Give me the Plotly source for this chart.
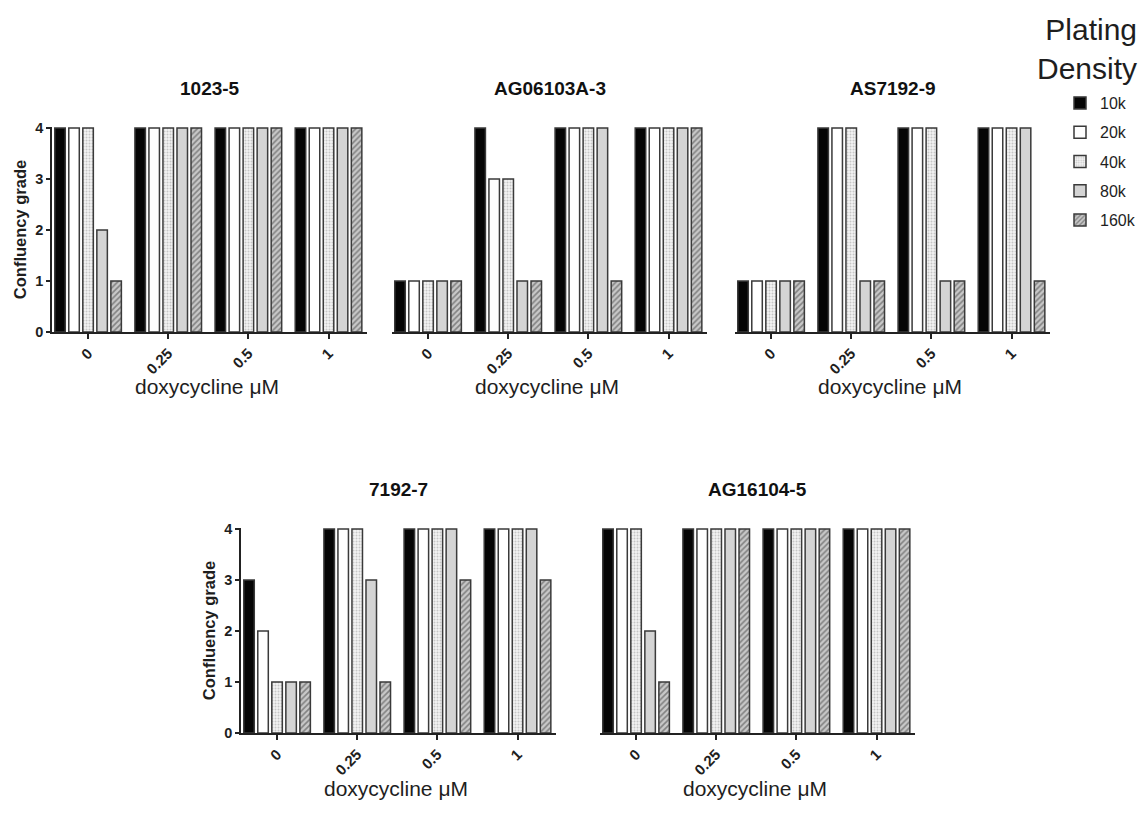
import plotly.graph_objects as go

doses = ["0", "0.25", "0.5", "1"]
densities = ["10k", "20k", "40k", "80k", "160k"]
panels = ["1023-5", "AG06103A-3", "AS7192-9", "7192-7", "AG16104-5"]

# confluency grade per density, one value per doxycycline dose
v_1023_5 = {"10k": [4, 4, 4, 4], "20k": [4, 4, 4, 4], "40k": [4, 4, 4, 4], "80k": [2, 4, 4, 4], "160k": [1, 4, 4, 4]}
v_AG06103A_3 = {"10k": [1, 4, 4, 4], "20k": [1, 3, 4, 4], "40k": [1, 3, 4, 4], "80k": [1, 1, 4, 4], "160k": [1, 1, 1, 4]}
v_AS7192_9 = {"10k": [1, 4, 4, 4], "20k": [1, 4, 4, 4], "40k": [1, 4, 4, 4], "80k": [1, 1, 1, 4], "160k": [1, 1, 1, 1]}
v_7192_7 = {"10k": [3, 4, 4, 4], "20k": [2, 4, 4, 4], "40k": [1, 4, 4, 4], "80k": [1, 3, 4, 4], "160k": [1, 1, 3, 3]}
v_AG16104_5 = {"10k": [4, 4, 4, 4], "20k": [4, 4, 4, 4], "40k": [4, 4, 4, 4], "80k": [2, 4, 4, 4], "160k": [1, 4, 4, 4]}
values = [v_1023_5, v_AG06103A_3, v_AS7192_9, v_7192_7, v_AG16104_5]

W, H = 1143, 815
FONT = "Arial, Liberation Sans, sans-serif"
EDGE = "#3a3a3a"
TXT = "#1e1e1e"

styles = {
    "10k": dict(color="#050505"),
    "20k": dict(color="#ffffff"),
    "40k": dict(color="#f2f2f2", pattern=dict(shape=".", fgcolor="#9a9a9a", bgcolor="#f2f2f2", size=3, solidity=0.35)),
    "80k": dict(color="#d4d4d4"),
    "160k": dict(color="#c8c8c8", pattern=dict(shape="/", fgcolor="#3a3a3a", bgcolor="#c8c8c8", size=4, solidity=0.4)),
}

# panel layout in pixels: (x_left, x_right, y_zero_px, y_top_px)
boxes = [
    (52, 367, 332, 127),
    (392, 707, 332, 127),
    (735, 1050, 332, 127),
    (241, 556, 733, 528),
    (600, 915, 733, 528),
]
show_y = [True, False, False, True, False]

fig = go.Figure()
layout = {}
annotations = []
for i, (name, vals, box) in enumerate(zip(panels, values, boxes)):
    xl, xr, y0, y4 = box
    ax = "" if i == 0 else str(i + 1)
    for d in densities:
        st = styles[d]
        marker = dict(color=st["color"], line=dict(color=EDGE, width=1.5))
        if "pattern" in st:
            marker["pattern"] = st["pattern"]
        fig.add_trace(go.Bar(
            x=doses, y=vals[d], name=d, legendgroup=d, showlegend=(i == 0),
            marker=marker, xaxis="x" + ax, yaxis="y" + ax,
        ))
    layout["xaxis" + ax] = dict(
        domain=[xl / W, xr / W], anchor="y" + ax, type="category",
        range=[-0.45, 3.48], showline=True, linecolor="#222", linewidth=1.5,
        ticks="outside", ticklen=5, tickcolor="#222", tickwidth=1.5,
        tickangle=-45, tickfont=dict(family=FONT, size=15, color=TXT, weight="bold"),
        showgrid=False, zeroline=False, fixedrange=True,
    )
    layout["yaxis" + ax] = dict(
        domain=[1 - y0 / H, 1 - y4 / H], anchor="x" + ax,
        range=[0, 4.02], showgrid=False, zeroline=False,
        showline=show_y[i], linecolor="#222", linewidth=1.5,
        ticks="outside" if show_y[i] else "", ticklen=4, tickcolor="#222", tickwidth=1.5,
        showticklabels=show_y[i], tickvals=[0, 1, 2, 3, 4],
        tickfont=dict(family=FONT, size=14.5, color=TXT, weight="bold"),
        title=dict(text="Confluency grade" if show_y[i] else "",
                   font=dict(family=FONT, size=16.5, color=TXT, weight="bold"), standoff=4),
    )
    cx = (xl + xr) / 2 / W
    annotations.append(dict(text=name, x=cx, y=1 - (y4 - 39) / H, xref="paper", yref="paper",
                            showarrow=False, xanchor="center", yanchor="middle",
                            font=dict(family=FONT, size=19, color="#111", weight="bold")))
    annotations.append(dict(text="doxycycline μM", x=(cx * W - 3) / W, y=1 - (y0 + 55) / H,
                            xref="paper", yref="paper",
                            showarrow=False, xanchor="center", yanchor="middle",
                            font=dict(family=FONT, size=21, color=TXT)))

annotations.append(dict(text="Plating<br>Density", x=1139 / W, y=1 - 11 / H, xref="paper", yref="paper",
                        showarrow=False, xanchor="right", yanchor="top", align="right",
                        font=dict(family=FONT, size=30, color=TXT)))

fig.update_layout(
    width=W, height=H, margin=dict(l=0, r=0, t=0, b=0, autoexpand=False),
    plot_bgcolor="white", paper_bgcolor="white",
    barmode="group", bargap=0.125, bargroupgap=0.25,
    annotations=annotations,
    legend=dict(x=1060 / W, y=1 - 86 / H, xanchor="left", yanchor="top",
                font=dict(family=FONT, size=16, color=TXT), tracegroupgap=5.5,
                bgcolor="rgba(0,0,0,0)", itemwidth=30),
    showlegend=True,
    **layout,
)

fig.write_html("out.html")
